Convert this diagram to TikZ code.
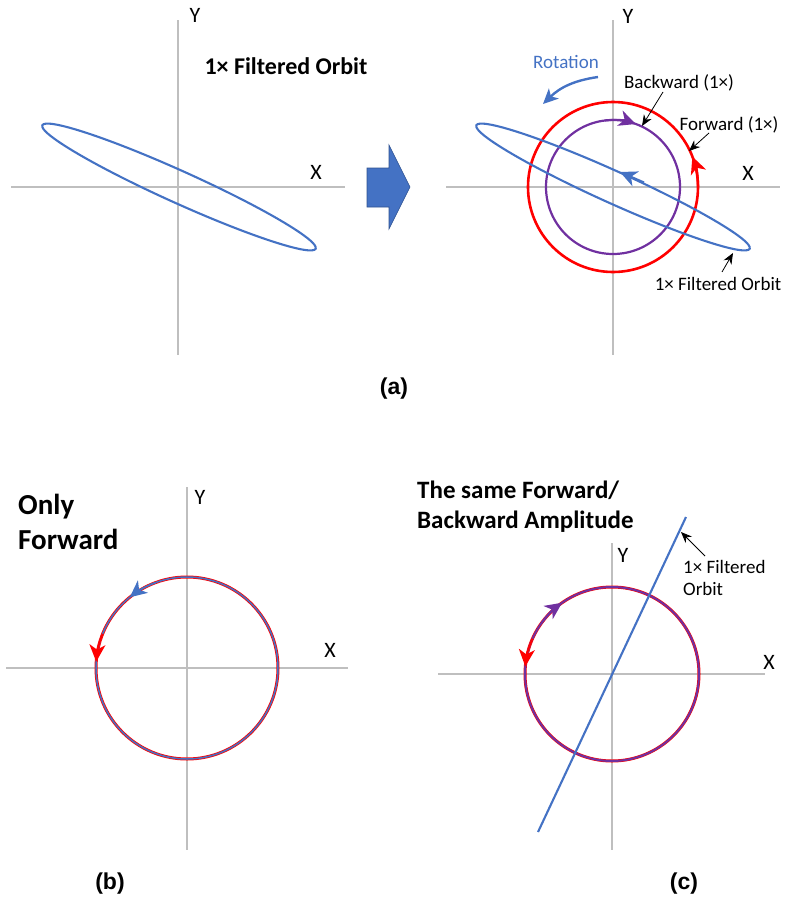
\documentclass[tikz,border=0pt]{standalone}
\usepackage{fontspec}
\setmainfont{Carlito}
\newfontfamily\arialf{Liberation Sans}
\usetikzlibrary{arrows.meta}
\definecolor{oblue}{HTML}{4472C4}
\definecolor{ored}{HTML}{FF0000}
\definecolor{opurple}{HTML}{7030A0}
\definecolor{axgray}{HTML}{BFBFBF}
\definecolor{arrowedge}{HTML}{2F528F}
\begin{document}
\begin{tikzpicture}[x=1pt,y=1pt,
  axis/.style={draw=axgray,line width=1.4pt},
  axlab/.style={font=\fontsize{22}{24}\selectfont,inner sep=0pt},
  lab/.style={font=\fontsize{19}{22}\selectfont,inner sep=1pt},
  boldlab/.style={font=\bfseries\fontsize{24}{28}\selectfont,inner sep=0pt},
  panellab/.style={font=\arialf\bfseries\fontsize{23}{26}\selectfont,inner sep=0pt},
  orbit/.style={draw=oblue,line width=2.1pt},
  tipS/.style={-{Stealth[length=17pt,width=16pt,inset=5pt]}},
  pointer/.style={draw=black,line width=0.8pt,-{Stealth[length=11pt,width=9pt]}}]
\useasboundingbox (0,0) rectangle (787,-905);

% ---------- panel (a) left ----------
\draw[axis] (178,-20) -- (178,-355);
\draw[axis] (11,-187) -- (345,-187);
\node[axlab] (yal) at (195,-15) {Y};
\node[axlab] (xal) at (316,-172) {X};
\draw[orbit] (179,-187) ellipse [x radius=150pt, y radius=16pt, rotate=-24.3];
\node[boldlab] (title1) at (286,-66) {1× Filtered Orbit};

% block arrow
\draw[fill=oblue,draw=arrowedge,line width=0.6pt]
  (367,-168) -- (389,-168) -- (389,-145) -- (410,-187) -- (389,-229) -- (389,-207) -- (367,-207) -- cycle;

% ---------- panel (a) right ----------
\coordinate (CA) at (613,-187);
\draw[axis] (613,-20) -- (613,-355);
\draw[axis] (446,-187) -- (780,-187);
\node[axlab] (yar) at (628,-16) {Y};
\node[axlab] (xar) at (748,-173) {X};
\draw[draw=ored,line width=2.6pt] (CA) circle[radius=85pt];
\draw[draw=opurple,line width=2.2pt] (CA) circle[radius=67pt];
\draw[orbit] (CA) ellipse [x radius=150pt, y radius=16pt, rotate=-24.3];
% direction arrowheads
\draw[draw=opurple,fill=opurple,line width=2pt,tipS] ([shift={(97:67pt)}]CA) arc[start angle=97,end angle=70,radius=67pt];
\draw[draw=ored,fill=ored,line width=2.4pt,tipS] ([shift={(0:85pt)}]CA) arc[start angle=0,end angle=21,radius=85pt];
\coordinate (ebs) at (644,-182.5);
\coordinate (ebe) at (620,-172);
\draw[orbit,fill=oblue,tipS] (ebs) -- (ebe);
% rotation
\node[lab,text=oblue] (rot) at (566,-62) {Rotation};
\coordinate (rs) at (598,-77);
\coordinate (re) at (543,-104);
\draw[draw=oblue,line width=2.4pt,-{Stealth[length=15pt,width=14pt,inset=4pt]}] (rs) to[bend right=18] (re);
% labels with pointers
\node[lab] (bw) at (679,-83) {Backward (1×)};
\node[lab] (fw) at (729,-125) {Forward (1×)};
\node[lab] (fo) at (718,-284) {1× Filtered Orbit};
\coordinate (bwp) at (642,-126);
\coordinate (fwp) at (689,-151);
\coordinate (fop) at (733,-253);
\draw[pointer] (663,-92) -- (bwp);
\draw[pointer] (709,-133) -- (fwp);
\draw[pointer] (722,-272) -- (fop);

\node[panellab] (pa) at (394,-389) {(a)};

% ---------- panel (b) ----------
\coordinate (CB) at (187,-668);
\draw[axis] (187,-487) -- (187,-850);
\draw[axis] (6,-668) -- (348,-668);
\node[axlab] (yb) at (200,-497) {Y};
\node[axlab] (xb) at (330,-650) {X};
\draw[draw=ored,line width=3pt] (CB) circle[radius=91pt];
\draw[draw=oblue,line width=1.5pt] (CB) circle[radius=91pt];
\draw[draw=oblue,fill=oblue,line width=1.5pt,tipS] ([shift={(110:91pt)}]CB) arc[start angle=110,end angle=129,radius=91pt];
\draw[draw=ored,fill=ored,line width=1.8pt,tipS] ([shift={(158:91pt)}]CB) arc[start angle=158,end angle=176,radius=91pt];
\node[font=\bfseries\fontsize{29}{35}\selectfont,align=left,anchor=west,inner sep=0pt] (only) at (18,-522) {Only\\Forward};
\node[panellab] (pb) at (110,-884) {(b)};

% ---------- panel (c) ----------
\coordinate (CC) at (612,-674);
\draw[axis] (612,-543) -- (612,-850);
\draw[axis] (438,-674) -- (765,-674);
\node[axlab] (yc) at (623,-555) {Y};
\node[axlab] (xc) at (769,-662) {X};
\draw[draw=ored,line width=3pt] (CC) circle[radius=87pt];
\draw[draw=opurple,line width=2pt] (CC) circle[radius=87pt];
\draw[draw=opurple,fill=opurple,line width=2pt,tipS] ([shift={(144:87pt)}]CC) arc[start angle=144,end angle=125,radius=87pt];
\draw[draw=ored,fill=ored,line width=1.8pt,tipS] ([shift={(156:87pt)}]CC) arc[start angle=156,end angle=175,radius=87pt];
\coordinate (lt) at (686,-517);
\coordinate (lb) at (538,-832);
\draw[orbit] (lt) -- (lb);
\node[lab,align=left,anchor=west] (foc) at (682,-578) {1× Filtered\\Orbit};
\coordinate (focp) at (681,-532);
\draw[pointer] (705,-556) -- (focp);
\node[font=\bfseries\fontsize{25}{30}\selectfont,align=left,anchor=west,inner sep=0pt] (same) at (417,-507) {The same Forward/\\Backward Amplitude};
\node[panellab] (pc) at (684,-884) {(c)};
\end{tikzpicture}
\end{document}
